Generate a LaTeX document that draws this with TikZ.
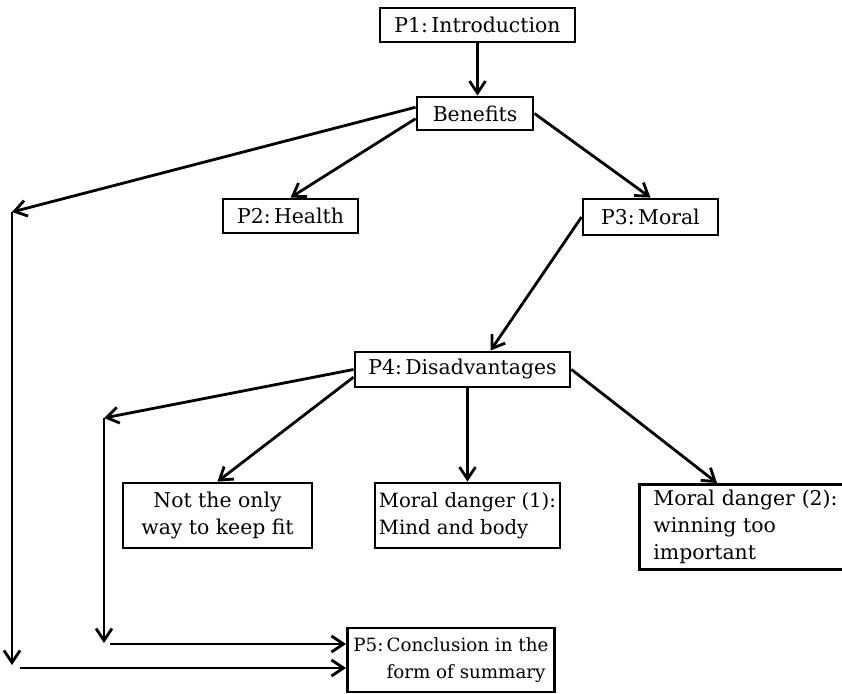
\documentclass[tikz,border=0pt]{standalone}
\usepackage{fontspec}
\setmainfont{DejaVu Serif}
\usetikzlibrary{arrows.meta}

\tikzset{
  box/.style={draw, line width=2pt, inner sep=0pt, align=center,
    font=\fontsize{14.5}{19}\selectfont},
  link/.style={line width=2pt, -{Straight Barb[length=3mm, width=4mm]}},
}

\begin{document}
\begin{tikzpicture}[x=0.025cm, y=-0.025cm]
        \useasboundingbox (0,0) rectangle (842,694);

        \node [box, minimum width=4.875cm, minimum height=0.85cm] (p1) at (477.5, 25) {P1:\,Introduction};
        \node [box, minimum width=2.9cm, minimum height=0.825cm] (ben) at (475, 113.5) {Benefits};
        \node [box, minimum width=3.375cm, minimum height=0.85cm] (p2) at (290.5, 216) {P2:\,Health};
        \node [box, minimum width=3.375cm, minimum height=0.9cm] (p3) at (650.5, 217) {P3:\,Moral};
        \node [box, minimum width=5.375cm, minimum height=0.875cm] (p4) at (462.5, 369.5) {P4:\,Disadvantages};
        \node [box, minimum width=4.725cm, minimum height=1.625cm] (nfit) at (217.5, 515.5) {Not the only\\way to keep fit};
        \node [box, minimum width=4.625cm, minimum height=1.625cm, align=left,
          font=\fontsize{14}{19}\selectfont] (mind) at (467.5, 515.5) {Moral danger (1):\\Mind and body};
        \node [box, anchor=north west, text width=5.2cm, minimum height=2.125cm, inner xsep=0.35cm, align=left] (m2) at (638, 483) {Moral danger (2):\\winning too\\important};
        \node [box, anchor=west, minimum height=1.6cm, inner xsep=0.15cm, align=left,
          font=\fontsize{13}{19}\selectfont] (p5) at (346, 660) {P5:\,Conclusion in the\\\hphantom{P5:\,}form of summary};

        \coordinate (lt) at (12, 212);
        \coordinate (lb) at (12, 665);
        \coordinate (le) at (20, 668);
        \coordinate (mt) at (104, 418);
        \coordinate (mb) at (104, 643);
        \coordinate (me) at (110, 644);

        \draw [link] (p1) -- (p1 |- ben.north);
        \draw [link] (ben.185) -- (p2.north);
        \draw [link] (ben.east) -- (p3.north);
        \draw [link] (ben.174) -- (lt);
        \draw [link] (lt) -- (lb);
        \draw [link] (le) -- (le -| p5.west);

        \draw [link] (p3.west) -- ([xshift=0.7cm]p4.north);
        \draw [link] (p4.184) -- (nfit.north);
        \draw [link] (p4.south -| mind.north) -- (mind.north);
        \draw [link] (p4.east) -- ([xshift=1.975cm]m2.north west);
        \draw [link] (p4.west) -- (mt);
        \draw [link] (mt) -- (mb);
        \draw [link] (me) -- (me -| p5.west);
    \end{tikzpicture}
\end{document}
